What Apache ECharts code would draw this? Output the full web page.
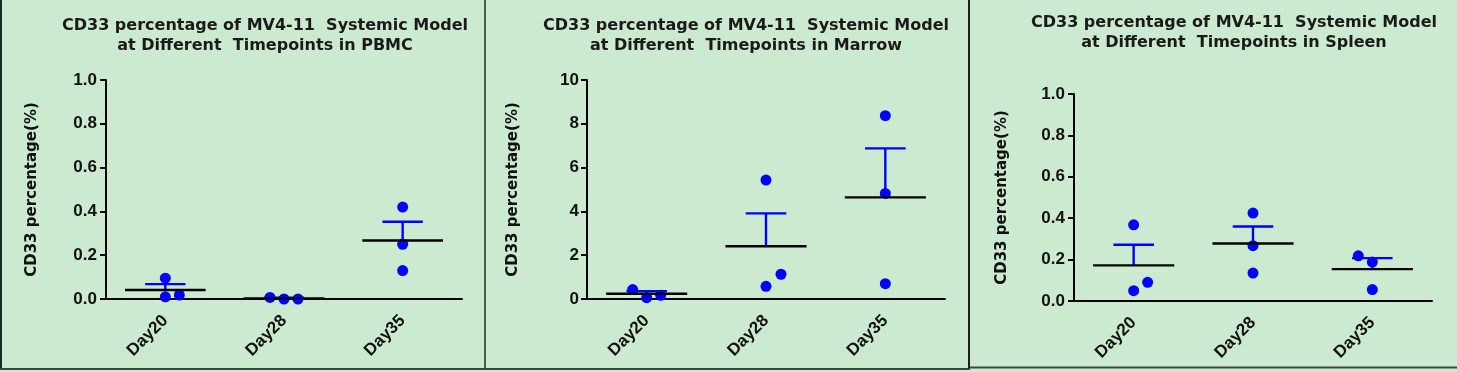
<!DOCTYPE html>
<html>
<head>
<meta charset="utf-8">
<script src="https://cdn.jsdelivr.net/npm/echarts@6/dist/echarts.min.js"></script>
<style>
html,body{margin:0;padding:0;background:#cceacf;}
#chart{width:1457px;height:372px;}
</style>
</head>
<body>
<div id="chart"></div>
<script>
// ---- data ----
const categories = ['Day20', 'Day28', 'Day35'];

const titles = [
  'CD33 percentage of MV4-11  Systemic Model\nat Different  Timepoints in PBMC',
  'CD33 percentage of MV4-11  Systemic Model\nat Different  Timepoints in Marrow',
  'CD33 percentage of MV4-11  Systemic Model\nat Different  Timepoints in Spleen'
];
const yAxisName = 'CD33 percentage(%)';

// individual animals per timepoint
const pbmcPoints   = [[0.095, 0.010, 0.018], [0.007, 0.000, 0.000], [0.420, 0.250, 0.130]];
const marrowPoints = [[0.43, 0.06, 0.17], [5.43, 0.58, 1.13], [8.37, 4.82, 0.70]];
const spleenPoints = [[0.368, 0.050, 0.090], [0.425, 0.267, 0.135], [0.218, 0.188, 0.055]];

// mean and SEM per timepoint
const pbmcMean   = [0.041, 0.003, 0.267];
const pbmcSem    = [0.027, 0.003, 0.086];
const marrowMean = [0.24, 2.41, 4.64];
const marrowSem  = [0.12, 1.50, 2.24];
const spleenMean = [0.172, 0.278, 0.154];
const spleenSem  = [0.100, 0.082, 0.053];

// y-axis tick settings
const pbmcTicks   = {min: 0, max: 1.0, interval: 0.2, digits: 1};
const marrowTicks = {min: 0, max: 10, interval: 2, digits: 0};
const spleenTicks = {min: 0, max: 1.0, interval: 0.2, digits: 1};

// horizontal jitter of dots (pixels)
const pbmcJitter   = [[0, 0, 14], [-14, 0, 14], [0, 0, 0]];
const marrowJitter = [[-14, 0, 14], [0, 0, 15], [0, 0, 0]];
const spleenJitter = [[0, 0, 14], [0, 0, 0], [-14, 0, 0]];

// ---- chart ----
const BLUE = '#0000ff';
const BG = '#cceacf';
const LABEL_FONT = '"Liberation Sans", Arial, sans-serif';
const chart = echarts.init(document.getElementById('chart'), null, {renderer: 'canvas'});

const panels = [
  {points: pbmcPoints, mean: pbmcMean, sem: pbmcSem, ticks: pbmcTicks, jitter: pbmcJitter,
   grid: {left: 106, top: 80, width: 356, height: 219}, titleX: 265, titleTop: 16, nameGap: 66, labelMargin: 9},
  {points: marrowPoints, mean: marrowMean, sem: marrowSem, ticks: marrowTicks, jitter: marrowJitter,
   grid: {left: 587, top: 80, width: 358, height: 219}, titleX: 746, titleTop: 16, nameGap: 66, labelMargin: 8},
  {points: spleenPoints, mean: spleenMean, sem: spleenSem, ticks: spleenTicks, jitter: spleenJitter,
   grid: {left: 1074, top: 94, width: 358, height: 207}, titleX: 1234, titleTop: 13, nameGap: 64, labelMargin: 9}
];

const grid = [], xAxis = [], yAxis = [], series = [], title = [];

panels.forEach((p, i) => {
  grid.push(Object.assign({containLabel: false}, p.grid));
  title.push({
    text: titles[i],
    left: p.titleX,
    top: p.titleTop,
    textAlign: 'center',
    padding: 0,
    textStyle: {fontFamily: 'DejaVu Sans', fontWeight: 'bold', fontSize: 16, lineHeight: 20, color: '#1a1a1a'}
  });
  xAxis.push({
    type: 'category',
    gridIndex: i,
    data: categories,
    boundaryGap: true,
    axisLine: {lineStyle: {color: '#000', width: 2}},
    axisTick: {alignWithLabel: true, length: 6, lineStyle: {color: '#000', width: 2}},
    axisLabel: {rotate: 45, interval: 0, margin: 19, fontFamily: LABEL_FONT, fontWeight: 'bold', fontSize: 17, color: '#111'}
  });
  yAxis.push({
    type: 'value',
    gridIndex: i,
    min: p.ticks.min, max: p.ticks.max, interval: p.ticks.interval,
    axisLine: {show: true, lineStyle: {color: '#000', width: 2}},
    axisTick: {show: true, length: 6, lineStyle: {color: '#000', width: 2}},
    splitLine: {show: false},
    axisLabel: {
      margin: p.labelMargin,
      formatter: (v) => v.toFixed(p.ticks.digits),
      fontFamily: LABEL_FONT, fontWeight: 'bold', fontSize: 17, color: '#111'
    },
    name: yAxisName,
    nameLocation: 'middle',
    nameGap: p.nameGap,
    nameTextStyle: {fontFamily: 'DejaVu Sans', fontWeight: 'bold', fontSize: 15, color: '#111'}
  });

  // dots
  const dots = [];
  p.points.forEach((vals, c) => {
    vals.forEach((v, k) => {
      dots.push({value: [c, v], symbolOffset: [p.jitter[c][k], 0]});
    });
  });
  series.push({
    type: 'scatter',
    xAxisIndex: i, yAxisIndex: i,
    symbol: 'circle',
    symbolSize: 11,
    itemStyle: {color: BLUE, opacity: 1},
    data: dots,
    z: 2,
    silent: true
  });

  // mean line + SEM bar
  series.push({
    type: 'custom',
    xAxisIndex: i, yAxisIndex: i,
    z: 3,
    silent: true,
    data: p.mean.map((m, c) => [c, m, p.sem[c]]),
    renderItem: function (params, api) {
      const c = api.value(0), m = api.value(1), s = api.value(2);
      const pm = api.coord([c, m]);
      const pt = api.coord([c, m + s]);
      const band = api.size([1, 0])[0];
      const hw = band * 0.34;
      const cw = band * 0.17;
      return {
        type: 'group',
        children: [
          {type: 'line', shape: {x1: pm[0], y1: pm[1], x2: pt[0], y2: pt[1]}, style: {stroke: BLUE, lineWidth: 2.4}},
          {type: 'line', shape: {x1: pt[0] - cw, y1: pt[1], x2: pt[0] + cw, y2: pt[1]}, style: {stroke: BLUE, lineWidth: 2.4}},
          {type: 'line', shape: {x1: pm[0] - hw, y1: pm[1], x2: pm[0] + hw, y2: pm[1]}, style: {stroke: '#000', lineWidth: 2.4}}
        ]
      };
    }
  });
});

chart.setOption({
  backgroundColor: BG,
  animation: false,
  title: title,
  grid: grid,
  xAxis: xAxis,
  yAxis: yAxis,
  series: series,
  graphic: [
    {type: 'line', shape: {x1: 1, y1: 0, x2: 1, y2: 370}, style: {stroke: '#1e2a22', lineWidth: 2}, silent: true},
    {type: 'line', shape: {x1: 485, y1: 0, x2: 485, y2: 370}, style: {stroke: '#4a5a4f', lineWidth: 2}, silent: true},
    {type: 'line', shape: {x1: 969, y1: 0, x2: 969, y2: 370}, style: {stroke: '#1a1f1c', lineWidth: 2}, silent: true},
    {type: 'line', shape: {x1: 0, y1: 369, x2: 970, y2: 369}, style: {stroke: '#3a463e', lineWidth: 2}, silent: true},
    {type: 'line', shape: {x1: 970, y1: 367.5, x2: 1457, y2: 367.5}, style: {stroke: '#3a463e', lineWidth: 2}, silent: true}
  ]
});
</script>
</body>
</html>
